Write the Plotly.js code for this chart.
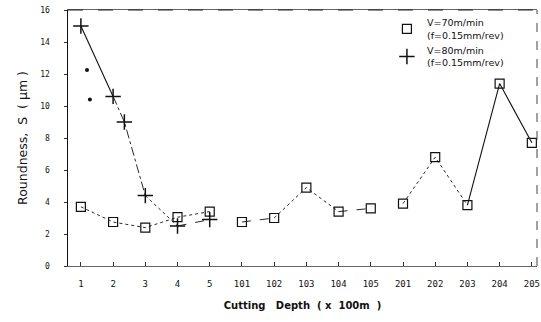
<!DOCTYPE html>
<html><head><meta charset="utf-8">
<script src="https://cdn.plot.ly/plotly-3.0.1.min.js"></script>
<style>html,body{margin:0;padding:0;background:#fff}#c{width:541px;height:322px}</style>
</head><body><div id="c"></div>
<script>
// categories (cutting depth labels) and their positions on the axis
var tickLabels = ['1','2','3','4','5','101','102','103','104','105','201','202','203','204','205'];
var tickPos = [1,2,3,4,5,6,7,8,9,10,11,12,13,14,15];

// V=70m/min (squares)
var sqX = [1,2,3,4,5,6,7,8,9,10,11,12,13,14,15];
var sqY = [3.7,2.75,2.4,3.05,3.4,2.75,3.0,4.9,3.4,3.6,3.9,6.8,3.8,11.4,7.7];

// V=80m/min (plus)
var plX = [1,2,2.35,3,4,5];
var plY = [15.0,10.6,9.0,4.4,2.5,2.9];
// extra scattered points
var dotX = [1.19,1.28];
var dotY = [12.25,10.4];

function seg(xs, ys, a, b, dash, w){
  return {x: xs.slice(a,b+1), y: ys.slice(a,b+1), mode:'lines', showlegend:false, hoverinfo:'skip',
    line:{color:'#111', width:w||0.9, dash:dash}};
}
var traces = [
  seg(sqX, sqY, 0, 4, 'dot'),
  seg(sqX, sqY, 5, 6, 'dash'),
  seg(sqX, sqY, 6, 8, 'dot'),
  seg(sqX, sqY, 8, 9, 'dash'),
  seg(sqX, sqY, 10, 12, 'dot'),
  seg(sqX, sqY, 12, 14, 'solid', 1.1),
  seg(plX, plY, 0, 1, 'solid', 1.1),
  seg(plX, plY, 1, 3, 'dashdot'),
  seg(plX, plY, 3, 4, 'dot'),
  seg(plX, plY, 4, 5, 'dash'),
  {x: sqX, y: sqY, mode:'markers', name:'V=70m/min<br>(f=0.15mm/rev)',
   marker:{symbol:'square-open', size:9, color:'#111', line:{width:1.2}}},
  {x: plX, y: plY, mode:'markers', name:'V=80m/min<br>(f=0.15mm/rev)',
   marker:{symbol:'cross-thin', size:11, color:'#111', line:{width:1.5, color:'#111'}}},
  {x: dotX, y: dotY, mode:'markers', showlegend:false,
   marker:{symbol:'circle', size:4, color:'#111'}}
];

var layout = {
  width:541, height:322,
  margin:{l:68, r:4, t:10, b:56},
  paper_bgcolor:'#fff', plot_bgcolor:'#fff',
  font:{family:'DejaVu Sans Mono, monospace', size:9, color:'#111'},
  showlegend:true,
  legend:{x:0.68, y:1.0, xanchor:'left', yanchor:'top', bgcolor:'rgba(0,0,0,0)',
    font:{family:'DejaVu Sans, sans-serif', size:9.5, color:'#111'}, tracegroupgap:2, itemwidth:30},
  xaxis:{range:[0.6,15.16], tickvals:tickPos, ticktext:tickLabels, ticks:'inside', ticklen:4,
    tickcolor:'#333', showgrid:false, zeroline:false, showline:true, linecolor:'#666', linewidth:1,
    mirror:true, ticklabelstandoff:9, tickfont:{size:9, family:'DejaVu Sans Mono, monospace'},
    title:{text:'<b>Cutting   Depth  ( x  100m  )</b>', font:{size:10, family:'DejaVu Sans, sans-serif'}, standoff:14}},
  yaxis:{range:[0,16], tickvals:[0,2,4,6,8,10,12,14,16], ticks:'outside', ticklen:3, tickcolor:'#333',
    showgrid:false, zeroline:false, showline:true, linecolor:'#111', linewidth:1.5, mirror:false,
    ticklabelstandoff:12, tickfont:{size:8, family:'DejaVu Sans Mono, monospace'},
    title:{text:'Roundness,  S  ( μm )', font:{size:12.5, family:'DejaVu Sans, sans-serif'}, standoff:10}},
  shapes:[
    {type:'line', xref:'paper', yref:'paper', x0:0, x1:1, y0:1, y1:1, line:{color:'#222', width:1.2, dash:'longdash'}},
    {type:'line', xref:'paper', yref:'paper', x0:1, x1:1, y0:0, y1:1, line:{color:'#444', width:1, dash:'dash'}}
  ]
};
Plotly.newPlot('c', traces, layout, {displayModeBar:false, staticPlot:true});
</script></body></html>
